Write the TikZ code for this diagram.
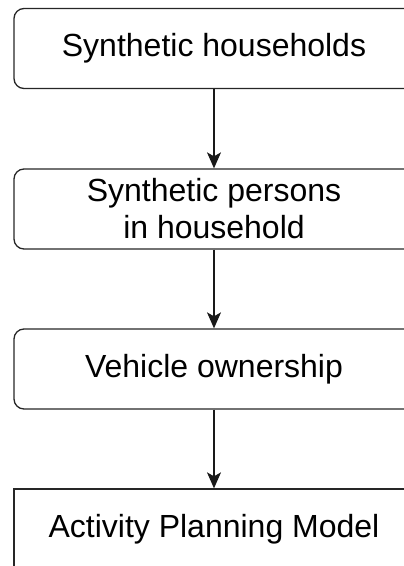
\documentclass[tikz,border=0pt]{standalone}
\usepackage{fontspec}
\setmainfont{Liberation Sans}
\usetikzlibrary{arrows.meta}
\begin{document}
\begin{tikzpicture}[x=1pt,y=-1pt,
  flowbox/.style={draw=black!85, line width=1.3pt, rounded corners=10pt, minimum width=400pt, minimum height=80pt, align=center, inner sep=0pt, font=\fontsize{32}{37}\selectfont},
  sqbox/.style={flowbox, sharp corners},
  flowarrow/.style={draw=black!90, line width=1.3pt, -{Stealth[length=16pt,width=14pt,inset=4pt]}}]
\useasboundingbox (0,0) rectangle (404,566);
\clip (0,0) rectangle (404,566);
\node[flowbox] (b1) at (214,48.5) {Synthetic households};
\node[flowbox] (b2) at (214,209) {Synthetic persons\\in household};
\node[flowbox] (b3) at (214,369) {Vehicle ownership};
\node[sqbox] (b4) at (214,529) {};
\node[font=\fontsize{32}{37}\selectfont] (t4) at (214,529) {Activity Planning Model};
\draw[flowarrow] (b1) -- (b2);
\draw[flowarrow] (b2) -- (b3);
\draw[flowarrow] (b3) -- (b4);
\end{tikzpicture}
\end{document}
